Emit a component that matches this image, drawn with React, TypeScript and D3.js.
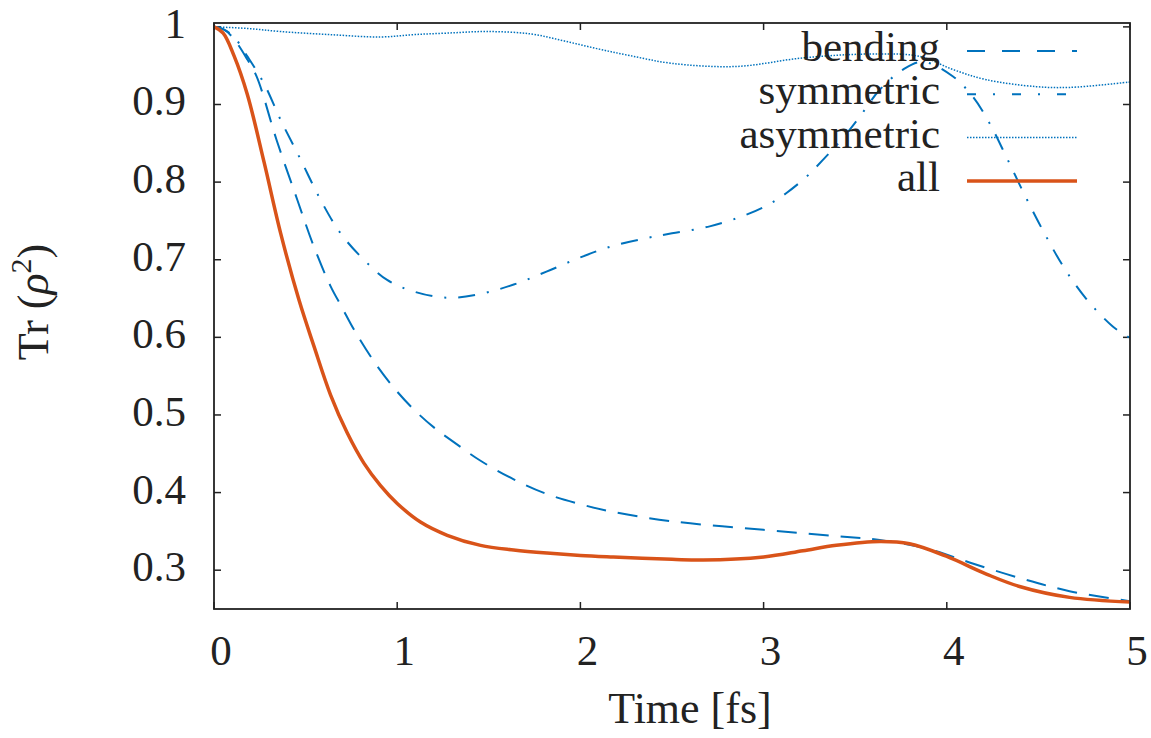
import React from "react";
import * as d3 from "d3";

const allT = [0, 0.05, 0.109, 0.182, 0.273, 0.364, 0.464, 0.545, 0.636, 0.727, 0.818, 0.909, 1.0, 1.127, 1.273, 1.455, 1.636, 1.818, 2.0, 2.18, 2.5, 2.67, 3.0, 3.215, 3.397, 3.634, 3.797, 3.997, 4.216, 4.397, 4.67, 5.0];
const allV = [1.0, 0.992, 0.963, 0.913, 0.826, 0.734, 0.648, 0.589, 0.526, 0.477, 0.438, 0.409, 0.386, 0.362, 0.345, 0.332, 0.326, 0.322, 0.319, 0.317, 0.314, 0.313, 0.317, 0.325, 0.332, 0.337, 0.334, 0.318, 0.295, 0.279, 0.265, 0.259];

const bendT = [0, 0.05, 0.1, 0.182, 0.233, 0.342, 0.455, 0.545, 0.636, 0.7, 0.764, 0.873, 0.982, 1.091, 1.2, 1.309, 1.455, 1.636, 1.818, 2.0, 2.18, 2.5, 3.0, 3.397, 3.634, 3.906, 4.124, 4.397, 4.67, 5.0];
const bendV = [1.0, 0.997, 0.987, 0.958, 0.936, 0.854, 0.777, 0.717, 0.666, 0.638, 0.61, 0.569, 0.535, 0.507, 0.484, 0.465, 0.441, 0.417, 0.398, 0.385, 0.375, 0.363, 0.352, 0.344, 0.339, 0.327, 0.31, 0.29, 0.273, 0.26];

const symT = [0, 0.05, 0.109, 0.182, 0.273, 0.364, 0.473, 0.582, 0.691, 0.818, 0.945, 1.091, 1.273, 1.455, 1.636, 1.818, 2.0, 2.18, 2.364, 2.5, 2.706, 2.906, 3.034, 3.125, 3.234, 3.325, 3.434, 3.524, 3.634, 3.761, 3.87, 4.034, 4.142, 4.233, 4.324, 4.424, 4.533, 4.642, 4.76, 4.906, 5.0];
const symV = [1.0, 0.997, 0.987, 0.962, 0.927, 0.88, 0.829, 0.777, 0.734, 0.7, 0.674, 0.659, 0.651, 0.656, 0.668, 0.685, 0.703, 0.718, 0.728, 0.734, 0.743, 0.758, 0.772, 0.786, 0.807, 0.829, 0.857, 0.884, 0.919, 0.945, 0.955, 0.936, 0.91, 0.876, 0.833, 0.784, 0.734, 0.689, 0.65, 0.614, 0.599];

const asymT = [0, 0.182, 0.364, 0.636, 0.909, 1.09, 1.273, 1.49, 1.727, 1.909, 2.09, 2.27, 2.5, 2.851, 3.215, 3.579, 3.852, 4.034, 4.215, 4.488, 4.67, 5.0];
const asymV = [1.0, 0.998, 0.994, 0.99, 0.987, 0.99, 0.992, 0.994, 0.991, 0.982, 0.972, 0.963, 0.953, 0.949, 0.96, 0.965, 0.962, 0.945, 0.932, 0.923, 0.922, 0.929];

const xTicks = [0, 1, 2, 3, 4, 5];
const yTicks = [0.3, 0.4, 0.5, 0.6, 0.7, 0.8, 0.9, 1];
const yTickLabels = ["0.3", "0.4", "0.5", "0.6", "0.7", "0.8", "0.9", "1"];

const BLUE = "#0072BD";
const ORANGE = "#D95319";
const FONT = "'Liberation Serif', 'DejaVu Serif', serif";

export default function App() {
  const left = 214, right = 1130, top = 23, bottom = 609;
  const x = d3.scaleLinear().domain([0, 5]).range([left, right]);
  const y = d3.scaleLinear().domain([0.25, 1.005]).range([bottom, top]);
  const line = d3
    .line<[number, number]>()
    .x((d) => x(d[0]))
    .y((d) => y(d[1]))
    .curve(d3.curveCatmullRom.alpha(0.5));
  const mk = (ts: number[], vs: number[]) => line(ts.map((t, i) => [t, vs[i]] as [number, number])) || "";

  const series = [
    { name: "bending", path: mk(bendT, bendV), color: BLUE, width: 2, dash: "20,12" },
    { name: "symmetric", path: mk(symT, symV), color: BLUE, width: 2, dash: "17,12,2,12" },
    { name: "asymmetric", path: mk(asymT, asymV), color: BLUE, width: 1.5, dash: "1.5,1.5" },
    { name: "all", path: mk(allT, allV), color: ORANGE, width: 3.5, dash: "none" },
  ];
  const legendDash = ["18,17", "9,17,2,17", "1.5,1.5", "none"];

  const axisColor = "#222";
  const tickLen = 7;

  return (
    <svg width={1151} height={738} style={{ position: "absolute", left: 0, top: 0, background: "#fff" }} fontFamily={FONT}>
      <rect x={0} y={0} width={1151} height={738} fill="#fff" />
      <defs>
        <clipPath id="plot">
          <rect x={left} y={top} width={right - left} height={bottom - top} />
        </clipPath>
      </defs>
      {xTicks.map((t) => (
        <g key={"xt" + t}>
          <line x1={x(t)} x2={x(t)} y1={bottom} y2={bottom - tickLen} stroke={axisColor} strokeWidth={1.5} />
          <line x1={x(t)} x2={x(t)} y1={top} y2={top + tickLen} stroke={axisColor} strokeWidth={1.5} />
          <text x={x(t) + 7} y={665} textAnchor="middle" fontSize={43} fill="#222">
            {t}
          </text>
        </g>
      ))}
      {yTicks.map((v, i) => (
        <g key={"yt" + v}>
          <line x1={left} x2={left + tickLen} y1={y(v)} y2={y(v)} stroke={axisColor} strokeWidth={1.5} />
          <line x1={right} x2={right - tickLen} y1={y(v)} y2={y(v)} stroke={axisColor} strokeWidth={1.5} />
          <text x={186} y={y(v) + 11} textAnchor="end" fontSize={43} fill="#222">
            {yTickLabels[i]}
          </text>
        </g>
      ))}
      <g clipPath="url(#plot)">
        {series.map((s) => (
          <path
            key={s.name}
            d={s.path}
            fill="none"
            stroke={s.color}
            strokeWidth={s.width}
            strokeDasharray={s.dash}
            strokeLinejoin="round"
          />
        ))}
      </g>
      <rect x={left} y={top} width={right - left} height={bottom - top} fill="none" stroke={axisColor} strokeWidth={1.8} />
      {series.map((s, i) => {
        const ly = 51 + i * 43.3;
        return (
          <g key={"lg" + s.name}>
            <text x={940} y={ly + 10} textAnchor="end" fontSize={43} fill="#222">
              {s.name}
            </text>
            <line x1={967} x2={1077} y1={ly} y2={ly} stroke={s.color} strokeWidth={s.width} strokeDasharray={legendDash[i]} />
          </g>
        );
      })}
      <text x={690} y={723} textAnchor="middle" fontSize={44} fill="#222">
        Time [fs]
      </text>
      <text transform="translate(48,302) rotate(-90)" textAnchor="middle" fontSize={44} fill="#222">
        Tr (<tspan fontStyle="italic">ρ</tspan>
        <tspan fontSize={30} dy={-17}>2</tspan>
        <tspan dy={17}>)</tspan>
      </text>
    </svg>
  );
}
